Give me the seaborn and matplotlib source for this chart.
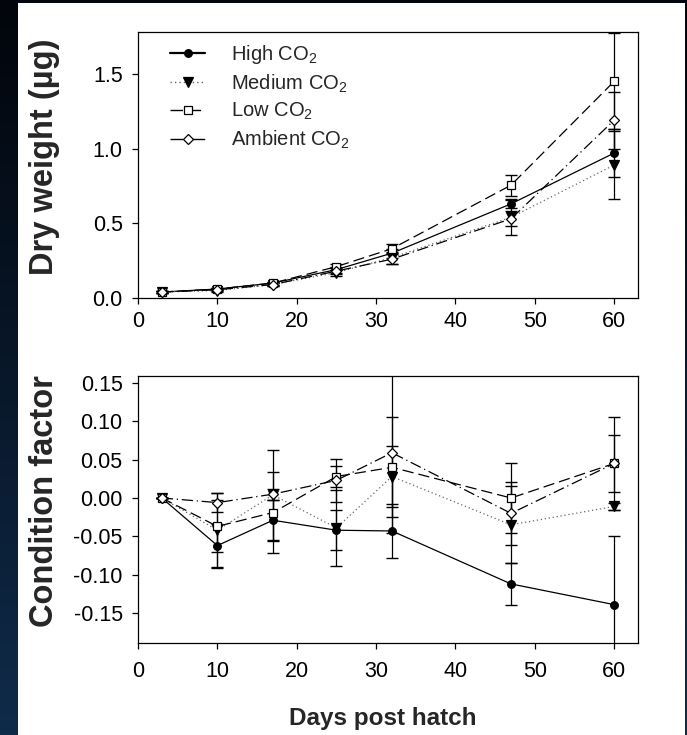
import numpy as np
import matplotlib
matplotlib.use("Agg")
import matplotlib.pyplot as plt
from matplotlib.lines import Line2D
from matplotlib.patches import Rectangle
from matplotlib.colors import LinearSegmentedColormap
import seaborn as sns

# ---- data -------------------------------------------------------------
days = [3, 10, 17, 25, 32, 47, 60]
treatments = ["High", "Medium", "Low", "Ambient"]

# dry weight (µg), mean and error
dw_high = [0.04, 0.06, 0.10, 0.19, 0.30, 0.63, 0.97]
dw_medium = [0.04, 0.05, 0.09, 0.17, 0.27, 0.54, 0.89]
dw_low = [0.04, 0.06, 0.10, 0.21, 0.33, 0.755, 1.45]
dw_ambient = [0.04, 0.055, 0.09, 0.18, 0.26, 0.53, 1.19]

dw_high_err = [0.005, 0.008, 0.01, 0.02, 0.03, 0.025, 0.16]
dw_medium_err = [0.005, 0.008, 0.01, 0.02, 0.04, 0.12, 0.23]
dw_low_err = [0.005, 0.008, 0.01, 0.02, 0.03, 0.07, 0.32]
dw_ambient_err = [0.005, 0.008, 0.01, 0.02, 0.035, 0.05, 0.19]

# condition factor, mean and error
cf_high = [0.0, -0.062, -0.029, -0.042, -0.043, -0.112, -0.139]
cf_medium = [0.0, -0.042, 0.004, -0.039, 0.028, -0.035, -0.011]
cf_low = [0.0, -0.037, -0.019, 0.028, 0.040, 0.0, 0.045]
cf_ambient = [0.0, -0.006, 0.005, 0.023, 0.059, -0.020, 0.045]

cf_high_err = [0.0, 0.028, 0.027, 0.026, 0.035, 0.027, 0.089]
cf_medium_err = [0.0, 0.049, 0.059, 0.050, 0.040, 0.050, 0.004]
cf_low_err = [0.0, 0.034, 0.053, 0.014, 0.065, 0.045, 0.060]
cf_ambient_err = [0.0, 0.012, 0.007, 0.028, 0.105, 0.041, 0.037]

legend_labels = ["High CO$_2$", "Medium CO$_2$", "Low CO$_2$", "Ambient CO$_2$"]

dw_y_ticks = [0.0, 0.5, 1.0, 1.5]
dw_y_ticklabels = ["0.0", "0.5", "1.0", "1.5"]
cf_y_ticks = [-0.15, -0.10, -0.05, 0.0, 0.05, 0.10, 0.15]
cf_y_ticklabels = ["-0.15", "-0.10", "-0.05", "0.00", "0.05", "0.10", "0.15"]
x_ticks = [0, 10, 20, 30, 40, 50, 60]

# ---- styling ------------------------------------------------------------
sns.set_style("white")
plt.rcParams["font.family"] = ["Liberation Sans", "DejaVu Sans"]
plt.rcParams["mathtext.fontset"] = "custom"
plt.rcParams["mathtext.rm"] = "Liberation Sans"
plt.rcParams["mathtext.default"] = "regular"
plt.rcParams["axes.unicode_minus"] = False

styles = {
    "High": dict(color="black", linestyle="-", marker="o", mfc="black", ms=5.5),
    "Medium": dict(color="#666666", linestyle=(0, (1, 2.2)), marker="v", mfc="black", ms=6.5),
    "Low": dict(color="black", linestyle=(0, (9, 4)), marker="s", mfc="white", ms=5.5),
    "Ambient": dict(color="black", linestyle=(0, (9, 3, 1, 3)), marker="D", mfc="white", ms=5.5),
}

W, H = 687, 735
fig = plt.figure(figsize=(W / 100, H / 100), dpi=100)

# dark gradient backdrop with a white sheet on top
bg = fig.add_axes([0, 0, 1, 1], zorder=-10)
grad = np.linspace(0, 1, 256)[:, None]
cmap = LinearSegmentedColormap.from_list("bg", ["#02050b", "#081729", "#0f2b4a"])
bg.imshow(grad, aspect="auto", cmap=cmap, extent=[0, 1, 0, 1], origin="upper")
bg.set_axis_off()
fig.patches.append(Rectangle((18 / W, 0), (685 - 18) / W, (H - 3) / H,
                             transform=fig.transFigure, facecolor="white",
                             edgecolor="none", zorder=-5))

ax1 = fig.add_axes([138 / W, 1 - 298 / H, 500 / W, 266 / H])
ax2 = fig.add_axes([138 / W, 1 - 643 / H, 500 / W, 267 / H])

dw_means = dict(High=dw_high, Medium=dw_medium, Low=dw_low, Ambient=dw_ambient)
dw_errs = dict(High=dw_high_err, Medium=dw_medium_err, Low=dw_low_err, Ambient=dw_ambient_err)
cf_means = dict(High=cf_high, Medium=cf_medium, Low=cf_low, Ambient=cf_ambient)
cf_errs = dict(High=cf_high_err, Medium=cf_medium_err, Low=cf_low_err, Ambient=cf_ambient_err)


def draw_panel(ax, means, errs):
    for t in treatments:
        st = styles[t]
        ax.errorbar(days, means[t], yerr=errs[t], fmt="none", ecolor="black",
                    elinewidth=0.9, capsize=4, capthick=1.0, zorder=2)
        sns.lineplot(x=days, y=means[t], ax=ax, color=st["color"],
                     linestyle=st["linestyle"], linewidth=0.9, errorbar=None,
                     marker=st["marker"], markersize=st["ms"],
                     markerfacecolor=st["mfc"], markeredgecolor="black",
                     markeredgewidth=0.9, zorder=3)


draw_panel(ax1, dw_means, dw_errs)
draw_panel(ax2, cf_means, cf_errs)

for ax in (ax1, ax2):
    ax.set_xlim(0, 63)
    ax.set_xticks(x_ticks)
    ax.set_xticklabels([str(v) for v in x_ticks])
    for s in ax.spines.values():
        s.set_visible(True)
        s.set_color("black")
        s.set_linewidth(0.9)
    ax.tick_params(axis="both", direction="out", length=4.5, width=0.9,
                   colors="black", labelsize=15.5,
                   bottom=True, left=True, top=False, right=False)
    ax.tick_params(axis="y", pad=6.5)
    ax.set_facecolor("white")
    ax.grid(False)

ax1.tick_params(axis="x", pad=5)
ax2.tick_params(axis="x", pad=8.5)

ax1.set_ylim(0, 1.78)
ax1.set_yticks(dw_y_ticks)
ax1.set_yticklabels(dw_y_ticklabels)
ax2.set_ylim(-0.189, 0.159)
ax2.set_yticks(cf_y_ticks)
ax2.set_yticklabels(cf_y_ticklabels)

ax1.set_xlabel("")
ax1.set_ylabel("Dry weight (µg)", fontsize=23.5, fontweight="bold")
ax1.yaxis.set_label_coords((60 - 138) / 500, 0.53)
ax2.set_ylabel("Condition factor", fontsize=23.5, fontweight="bold")
ax2.yaxis.set_label_coords((60 - 138) / 500, 0.53)
ax2.set_xlabel("Days post hatch", fontsize=17.5, fontweight="bold")
ax2.xaxis.set_label_coords(0.49, (643 - 707) / 267)

handles = []
for t, lab in zip(treatments, legend_labels):
    st = styles[t]
    handles.append(Line2D([], [], color=st["color"], linestyle=st["linestyle"],
                          linewidth=1.6 if t == "High" else 1.0,
                          marker=st["marker"], markersize=st["ms"],
                          markerfacecolor=st["mfc"], markeredgecolor="black",
                          markeredgewidth=0.9, label=lab))
ax1.legend(handles=handles, loc="upper left",
           bbox_to_anchor=((170 - 138) / 500, (298 - 43) / 266),
           frameon=False, fontsize=14.5, handlelength=1.75, handletextpad=1.3,
           labelspacing=0.32, borderpad=0, borderaxespad=0)

fig.savefig("out.png", dpi=100, facecolor=fig.get_facecolor())
